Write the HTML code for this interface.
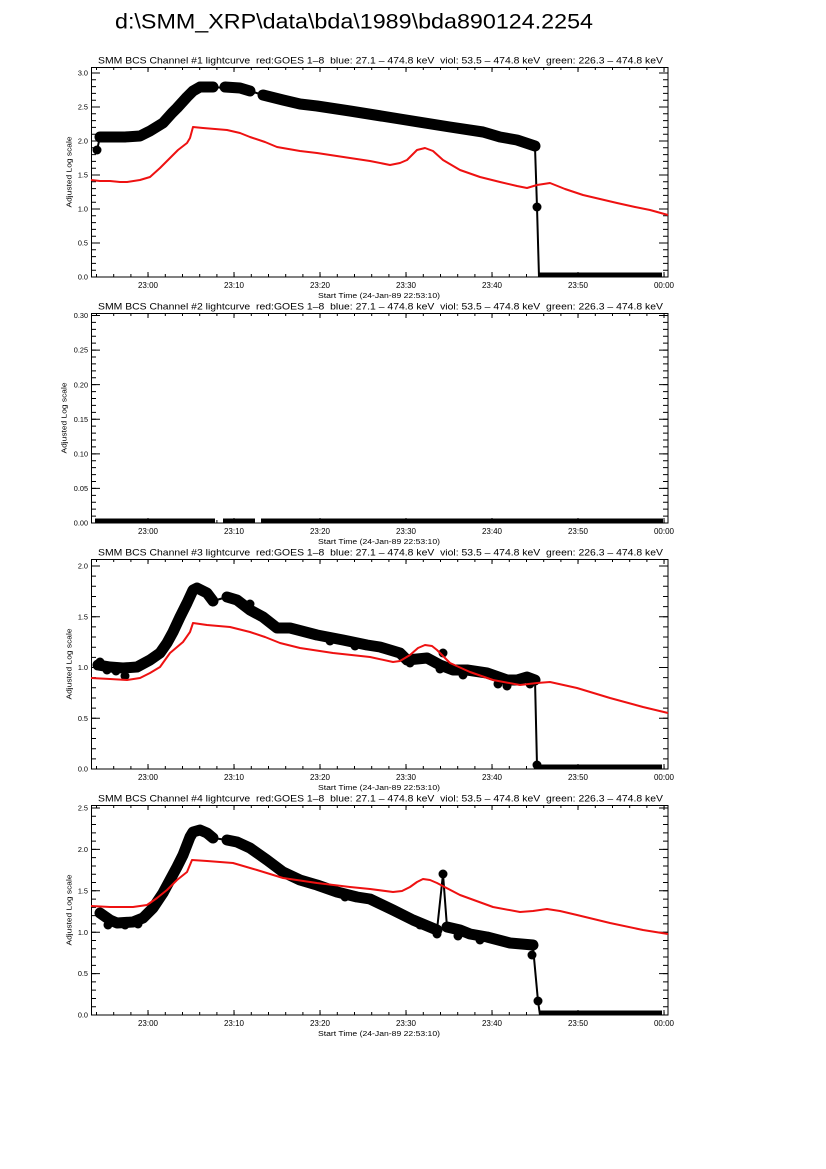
<!DOCTYPE html>
<html><head><meta charset="utf-8"><style>
html,body{margin:0;padding:0;background:#fff;}
svg{display:block;}
text{font-family:"Liberation Sans",Arial,sans-serif;fill:#000;}
.ax{fill:none;stroke:#000;}
.blk{fill:none;stroke:#000;stroke-linejoin:round;stroke-linecap:round;}
.thin{fill:none;stroke:#000;stroke-width:2;stroke-linejoin:round;}
.red{fill:none;stroke:#ee1111;stroke-width:2;stroke-linejoin:round;}
.yl{font-size:7.3px;text-anchor:end;}
.xl{font-size:8px;text-anchor:middle;}
.xt{font-size:7px;text-anchor:middle;}
.yt{font-size:7.3px;text-anchor:middle;}
.st{font-size:9.5px;}
</style></head><body>
<svg width="826" height="1169" viewBox="0 0 826 1169" xmlns="http://www.w3.org/2000/svg">
<rect width="826" height="1169" fill="#fff"/>
<text x="115" y="28.5" font-size="21" textLength="478" lengthAdjust="spacingAndGlyphs">d:\SMM_XRP\data\bda\1989\bda890124.2254</text>

<g id="frames">
<!-- Panel 1 -->
<text class="st" x="98" y="63.3" textLength="565" lengthAdjust="spacingAndGlyphs" xml:space="preserve">SMM BCS Channel #1 lightcurve  red:GOES 1–8  blue: 27.1 – 474.8 keV  viol: 53.5 – 474.8 keV  green: 226.3 – 474.8 keV</text>
<rect class="ax" stroke-width="1" x="91.5" y="67.5" width="576.5" height="209.5"/>
<path class="ax" stroke-width="5" d="M147.5,274.5H668M147.5,69.5H668" stroke-dasharray="1 85"/>
<path class="ax" stroke-width="3" d="M96,275.5H668M96,68.5H668" stroke-dasharray="1 16.2"/>
<path class="ax" stroke-width="9" d="M95.5,277.5V67M663.5,277.5V67" stroke-dasharray="1 33"/>
<path class="ax" stroke-width="5" d="M93.5,277.5V67M665.5,277.5V67" stroke-dasharray="1 5.8"/>
<text class="yl" x="88" y="279.6">0.0</text><text class="yl" x="88" y="245.6">0.5</text><text class="yl" x="88" y="211.6">1.0</text><text class="yl" x="88" y="177.6">1.5</text><text class="yl" x="88" y="143.6">2.0</text><text class="yl" x="88" y="109.6">2.5</text><text class="yl" x="88" y="75.6">3.0</text>
<g transform="translate(71.5,172) rotate(-90)"><text class="yt" x="0" y="0" textLength="71" lengthAdjust="spacingAndGlyphs">Adjusted Log scale</text></g>
<text class="xl" x="148" y="288">23:00</text><text class="xl" x="234" y="288">23:10</text><text class="xl" x="320" y="288">23:20</text><text class="xl" x="406" y="288">23:30</text><text class="xl" x="492" y="288">23:40</text><text class="xl" x="578" y="288">23:50</text><text class="xl" x="664" y="288">00:00</text>
<text class="xt" x="379" y="298" textLength="122" lengthAdjust="spacingAndGlyphs">Start Time (24-Jan-89 22:53:10)</text>

<!-- Panel 2 -->
<text class="st" x="98" y="309.3" textLength="565" lengthAdjust="spacingAndGlyphs" xml:space="preserve">SMM BCS Channel #2 lightcurve  red:GOES 1–8  blue: 27.1 – 474.8 keV  viol: 53.5 – 474.8 keV  green: 226.3 – 474.8 keV</text>
<rect class="ax" stroke-width="1" x="91.5" y="313.5" width="576.5" height="209.5"/>
<path class="ax" stroke-width="5" d="M147.5,520.5H668M147.5,315.5H668" stroke-dasharray="1 85"/>
<path class="ax" stroke-width="3" d="M96,521.5H668M96,314.5H668" stroke-dasharray="1 16.2"/>
<path class="ax" stroke-width="9" d="M95.5,523.5V313M663.5,523.5V313" stroke-dasharray="1 33.58"/>
<path class="ax" stroke-width="5" d="M93.5,523.5V313M665.5,523.5V313" stroke-dasharray="1 5.917"/>
<text class="yl" x="88" y="525.6">0.00</text><text class="yl" x="88" y="491">0.05</text><text class="yl" x="88" y="456.4">0.10</text><text class="yl" x="88" y="421.9">0.15</text><text class="yl" x="88" y="387.3">0.20</text><text class="yl" x="88" y="352.7">0.25</text><text class="yl" x="88" y="318.1">0.30</text>
<g transform="translate(66.5,418) rotate(-90)"><text class="yt" x="0" y="0" textLength="71" lengthAdjust="spacingAndGlyphs">Adjusted Log scale</text></g>
<text class="xl" x="148" y="534">23:00</text><text class="xl" x="234" y="534">23:10</text><text class="xl" x="320" y="534">23:20</text><text class="xl" x="406" y="534">23:30</text><text class="xl" x="492" y="534">23:40</text><text class="xl" x="578" y="534">23:50</text><text class="xl" x="664" y="534">00:00</text>
<text class="xt" x="379" y="544" textLength="122" lengthAdjust="spacingAndGlyphs">Start Time (24-Jan-89 22:53:10)</text>

<!-- Panel 3 -->
<text class="st" x="98" y="555.3" textLength="565" lengthAdjust="spacingAndGlyphs" xml:space="preserve">SMM BCS Channel #3 lightcurve  red:GOES 1–8  blue: 27.1 – 474.8 keV  viol: 53.5 – 474.8 keV  green: 226.3 – 474.8 keV</text>
<rect class="ax" stroke-width="1" x="91.5" y="559.5" width="576.5" height="209.5"/>
<path class="ax" stroke-width="5" d="M147.5,766.5H668M147.5,561.5H668" stroke-dasharray="1 85"/>
<path class="ax" stroke-width="3" d="M96,767.5H668M96,560.5H668" stroke-dasharray="1 16.2"/>
<path class="ax" stroke-width="9" d="M95.5,769.5V559M663.5,769.5V559" stroke-dasharray="1 49.75"/>
<path class="ax" stroke-width="5" d="M93.5,769.5V559M665.5,769.5V559" stroke-dasharray="1 9.15"/>
<text class="yl" x="88" y="771.6">0.0</text><text class="yl" x="88" y="720.9">0.5</text><text class="yl" x="88" y="670.1">1.0</text><text class="yl" x="88" y="619.4">1.5</text><text class="yl" x="88" y="568.6">2.0</text>
<g transform="translate(71.5,664) rotate(-90)"><text class="yt" x="0" y="0" textLength="71" lengthAdjust="spacingAndGlyphs">Adjusted Log scale</text></g>
<text class="xl" x="148" y="780">23:00</text><text class="xl" x="234" y="780">23:10</text><text class="xl" x="320" y="780">23:20</text><text class="xl" x="406" y="780">23:30</text><text class="xl" x="492" y="780">23:40</text><text class="xl" x="578" y="780">23:50</text><text class="xl" x="664" y="780">00:00</text>
<text class="xt" x="379" y="790" textLength="122" lengthAdjust="spacingAndGlyphs">Start Time (24-Jan-89 22:53:10)</text>

<!-- Panel 4 -->
<text class="st" x="98" y="801.3" textLength="565" lengthAdjust="spacingAndGlyphs" xml:space="preserve">SMM BCS Channel #4 lightcurve  red:GOES 1–8  blue: 27.1 – 474.8 keV  viol: 53.5 – 474.8 keV  green: 226.3 – 474.8 keV</text>
<rect class="ax" stroke-width="1" x="91.5" y="805.5" width="576.5" height="209.5"/>
<path class="ax" stroke-width="5" d="M147.5,1012.5H668M147.5,807.5H668" stroke-dasharray="1 85"/>
<path class="ax" stroke-width="3" d="M96,1013.5H668M96,806.5H668" stroke-dasharray="1 16.2"/>
<path class="ax" stroke-width="9" d="M95.5,1015.5V805M663.5,1015.5V805" stroke-dasharray="1 40.4"/>
<path class="ax" stroke-width="5" d="M93.5,1015.5V805M665.5,1015.5V805" stroke-dasharray="1 7.28"/>
<text class="yl" x="88" y="1017.6">0.0</text><text class="yl" x="88" y="976.2">0.5</text><text class="yl" x="88" y="934.8">1.0</text><text class="yl" x="88" y="893.4">1.5</text><text class="yl" x="88" y="852">2.0</text><text class="yl" x="88" y="810.6">2.5</text>
<g transform="translate(71.5,910) rotate(-90)"><text class="yt" x="0" y="0" textLength="71" lengthAdjust="spacingAndGlyphs">Adjusted Log scale</text></g>
<text class="xl" x="148" y="1026">23:00</text><text class="xl" x="234" y="1026">23:10</text><text class="xl" x="320" y="1026">23:20</text><text class="xl" x="406" y="1026">23:30</text><text class="xl" x="492" y="1026">23:40</text><text class="xl" x="578" y="1026">23:50</text><text class="xl" x="664" y="1026">00:00</text>
<text class="xt" x="379" y="1036" textLength="122" lengthAdjust="spacingAndGlyphs">Start Time (24-Jan-89 22:53:10)</text>
</g>

<!-- Panel 1 data -->
<polyline class="thin" points="97,150 100,137"/>
<circle cx="97" cy="150" r="4.5"/>
<polyline class="blk" stroke-width="11" points="100,137 112,137 125,137 140,136 150,131 163,123 172,113 177,108 187,97 193,91 200,87 213,87"/>
<polyline class="thin" points="213,87 225,88"/>
<polyline class="blk" stroke-width="11" points="225,87 240,88 250,91"/>
<polyline class="thin" points="250,91 263,95"/>
<polyline class="blk" stroke-width="11" points="263,95 283,100 300,104 317,106 350,111 400,119 450,127 483,132 500,137 517,140 535,146"/>
<polyline class="thin" points="535,147 537,207 539,277"/>
<circle cx="537" cy="207" r="4.5"/>
<rect x="539" y="272.5" width="123" height="4.5"/>
<polyline class="red" points="91,180 100,181 110,181 120,182 127,182 140,180 150,177 160,168 170,158 178,150 187,143 190,138 193,127 203,128 215,129 227,130 240,133 250,137 265,142 277,147 300,151 317,153 350,158 370,161 390,165 400,163 407,160 417,150 425,148 433,151 443,160 460,170 480,177 500,182 517,186 527,188 537,185 550,183 565,189 583,195 600,199 617,203 635,207 650,210 668,215"/>

<!-- Panel 2 data -->
<rect x="95" y="518.5" width="120" height="4.5"/>
<rect x="223" y="518.5" width="32" height="4.5"/>
<rect x="261" y="518.5" width="402" height="4.5"/>

<!-- Panel 3 data -->
<polyline class="blk" stroke-width="11" points="98,665 110,667 123,668 137,667 150,660 160,653 167,643 173,632 180,617 187,603 193,590 197,588 207,593 213,601"/>
<circle cx="125" cy="676" r="4.5"/><circle cx="107" cy="670" r="4.5"/><circle cx="116" cy="671" r="4.5"/><circle cx="100" cy="662" r="4.5"/>
<polyline class="thin" points="213,601 227,597"/>
<polyline class="blk" stroke-width="11" points="227,597 237,600 250,610 263,617 277,628 290,628 317,635 343,640 367,645 380,647 400,653 407,660 427,658 440,665 453,670 467,670 487,673 507,680 517,680 527,677 535,680"/>
<circle cx="443" cy="653" r="4.5"/><circle cx="507" cy="686" r="4.5"/><circle cx="498" cy="684" r="4.5"/><circle cx="410" cy="663" r="4.5"/><circle cx="270" cy="623" r="4.5"/><circle cx="300" cy="631" r="4.5"/><circle cx="355" cy="646" r="4.5"/><circle cx="440" cy="669" r="4.5"/><circle cx="463" cy="675" r="4.5"/><circle cx="530" cy="684" r="4.5"/><circle cx="250" cy="604" r="4.5"/><circle cx="330" cy="641" r="4.5"/>
<polyline class="thin" points="535,680 537,765 539,769"/>
<circle cx="537" cy="765" r="4.5"/>
<rect x="539" y="764.5" width="123" height="4.5"/>
<polyline class="red" points="91,678 110,679 127,680 140,678 150,673 160,667 170,653 183,642 190,632 193,623 207,625 230,627 250,632 265,637 280,643 300,648 333,653 370,657 393,662 400,661 410,655 418,648 425,645 432,646 437,650 450,663 470,672 493,680 520,685 537,683 550,682 577,688 610,698 643,707 668,713"/>

<!-- Panel 4 data -->
<polyline class="blk" stroke-width="11" points="100,913 110,920 117,923 133,922 143,918 153,908 163,893 170,880 177,867 183,855 190,837 193,832 200,830 207,833 213,838"/>
<circle cx="108" cy="925" r="4.5"/><circle cx="125" cy="925" r="4.5"/><circle cx="138" cy="924" r="4.5"/>
<polyline class="thin" points="213,838 227,840"/>
<polyline class="blk" stroke-width="11" points="227,840 237,842 250,848 267,860 283,872 300,880 317,885 337,892 357,897 370,899 393,910 413,920 437,930"/>
<circle cx="437" cy="934" r="4.5"/><circle cx="420" cy="925" r="4.5"/><circle cx="345" cy="897" r="4.5"/>
<polyline class="thin" points="437,930 443,874 447,927"/>
<circle cx="443" cy="874" r="4.5"/>
<polyline class="blk" stroke-width="11" points="447,927 460,930 470,934 487,937 510,943 533,945"/>
<circle cx="458" cy="936" r="4.5"/><circle cx="480" cy="940" r="4.5"/><circle cx="532" cy="955" r="4.5"/>
<polyline class="thin" points="533,947 538,1001 540,1015"/>
<circle cx="538" cy="1001" r="4.5"/>
<rect x="540" y="1010.5" width="122" height="4.5"/>
<polyline class="red" points="91,906 110,907 133,907 147,905 157,898 167,890 177,880 187,872 192,860 207,861 233,863 257,870 283,878 317,883 350,887 370,889 393,892 402,891 410,887 417,882 423,879 430,880 437,883 460,895 493,907 520,912 533,911 547,909 560,911 577,915 610,923 643,930 668,934"/>
</svg>
</body></html>
